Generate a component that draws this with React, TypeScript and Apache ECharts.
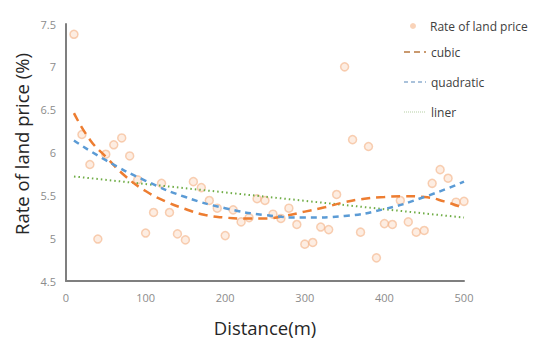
import React, { useEffect, useRef } from "react";
import * as echarts from "echarts";

const distances = [10, 20, 30, 40, 50, 60, 70, 80, 90, 100, 110, 120, 130, 140, 150, 160, 170, 180, 190, 200, 210, 220, 230, 240, 250, 260, 270, 280, 290, 300, 310, 320, 330, 340, 350, 360, 370, 380, 390, 400, 410, 420, 430, 440, 450, 460, 470, 480, 490, 500];
const rates = [7.38, 6.21, 5.86, 4.99, 5.98, 6.09, 6.17, 5.96, 5.68, 5.06, 5.3, 5.64, 5.3, 5.05, 4.98, 5.66, 5.59, 5.44, 5.35, 5.03, 5.33, 5.19, 5.24, 5.46, 5.44, 5.28, 5.23, 5.35, 5.16, 4.93, 4.95, 5.13, 5.1, 5.51, 7.0, 6.15, 5.07, 6.07, 4.77, 5.17, 5.16, 5.44, 5.19, 5.07, 5.09, 5.64, 5.8, 5.7, 5.42, 5.43];

const cubicX = [10, 30, 50, 75, 100, 125, 150, 175, 200, 225, 250, 275, 300, 325, 350, 375, 400, 425, 450, 475, 500];
const cubicY = [6.46, 6.15, 5.95, 5.72, 5.55, 5.43, 5.34, 5.27, 5.24, 5.23, 5.23, 5.26, 5.31, 5.36, 5.42, 5.46, 5.48, 5.49, 5.48, 5.43, 5.35];

const quadX = [10, 50, 100, 150, 200, 250, 300, 350, 400, 450, 500];
const quadY = [6.14, 5.91, 5.67, 5.48, 5.35, 5.27, 5.24, 5.26, 5.34, 5.48, 5.66];

const linX = [10, 500];
const linY = [5.72, 5.24];

const xTicks = [0, 100, 200, 300, 400, 500];
const yTicks = [4.5, 5, 5.5, 6, 6.5, 7, 7.5];

const zip = (xs: number[], ys: number[]) => xs.map((x, i) => [x, ys[i]]);

export default function App() {
  const ref = useRef<HTMLDivElement>(null);
  useEffect(() => {
    if (!ref.current) return;
    const chart = echarts.init(ref.current, undefined, { renderer: "svg" });
    const font = "'Open Sans', 'Noto Sans', sans-serif";
    const legendText = { fontFamily: font, fontSize: 12, color: "#404040" };
    const hidden = { color: "transparent", borderColor: "transparent", opacity: 0 };
    chart.setOption({
      animation: false,
      backgroundColor: "#ffffff",
      grid: { left: 66, top: 24, right: 79, bottom: 68 },
      legend: [
        {
          orient: "vertical",
          left: 405,
          top: 15,
          itemWidth: 24,
          itemHeight: 6,
          textStyle: legendText,
          data: [
            { name: "Rate of land price", icon: "circle", itemStyle: { color: "rgba(246,190,152,0.85)", borderWidth: 0 } },
          ],
        },
        {
          orient: "vertical",
          left: 398,
          top: 41,
          itemGap: 18,
          itemWidth: 22,
          itemHeight: 14,
          textStyle: legendText,
          data: [
            { name: "cubic", itemStyle: hidden, lineStyle: { color: "#C9996E", width: 2, type: [6, 4] } },
            { name: "quadratic", itemStyle: hidden, lineStyle: { color: "#8FAFD0", width: 1.5, type: [4, 3] } },
            { name: "liner", itemStyle: hidden, lineStyle: { color: "#B5CFA4", width: 1, type: [1, 1] } },
          ],
        },
      ],
      graphic: [
        {
          type: "text",
          x: 21,
          y: 144,
          rotation: Math.PI / 2,
          style: {
            text: "Rate of land price (%)",
            fontFamily: font,
            fontSize: 18.5,
            fill: "#262626",
            align: "center",
            verticalAlign: "middle",
          },
        },
      ],
      xAxis: {
        type: "value",
        min: xTicks[0],
        max: xTicks[xTicks.length - 1],
        interval: 100,
        name: "Distance(m)",
        nameLocation: "middle",
        nameGap: 37,
        nameTextStyle: { fontFamily: font, fontSize: 18.5, color: "#262626" },
        axisLine: { show: true, lineStyle: { color: "#7f7f7f", width: 2 } },
        axisTick: { show: false },
        splitLine: { show: false },
        axisLabel: { fontFamily: font, fontSize: 11, color: "#8c8c8c", margin: 11 },
      },
      yAxis: {
        type: "value",
        min: yTicks[0],
        max: yTicks[yTicks.length - 1],
        interval: 0.5,
        axisLine: { show: true, lineStyle: { color: "#7f7f7f", width: 2 } },
        axisTick: { show: false },
        splitLine: { show: false },
        axisLabel: { fontFamily: font, fontSize: 11, color: "#8c8c8c", margin: 10 },
      },
      series: [
        {
          name: "Rate of land price",
          type: "scatter",
          z: 1,
          symbolSize: 8,
          data: zip(distances, rates),
          itemStyle: { color: "rgba(250,215,190,0.55)", borderColor: "rgba(244,177,131,0.75)", borderWidth: 1.5 },
        },
        {
          name: "cubic",
          type: "line",
          z: 3,
          smooth: true,
          symbol: "none",
          data: zip(cubicX, cubicY),
          lineStyle: { color: "#ED7D31", width: 2.5, type: [9, 6] },
          itemStyle: { color: "#ED7D31" },
        },
        {
          name: "quadratic",
          type: "line",
          z: 3,
          smooth: true,
          symbol: "none",
          data: zip(quadX, quadY),
          lineStyle: { color: "#5B9BD5", width: 2.5, type: [6, 5] },
          itemStyle: { color: "#5B9BD5" },
        },
        {
          name: "liner",
          type: "line",
          z: 2,
          symbol: "none",
          data: zip(linX, linY),
          lineStyle: { color: "#70AD47", width: 2, type: [1.5, 3] },
          itemStyle: { color: "#70AD47" },
        },
      ],
    });
    return () => chart.dispose();
  }, []);
  return <div ref={ref} style={{ width: 543, height: 349, position: "absolute", left: 0, top: 0 }} />;
}
